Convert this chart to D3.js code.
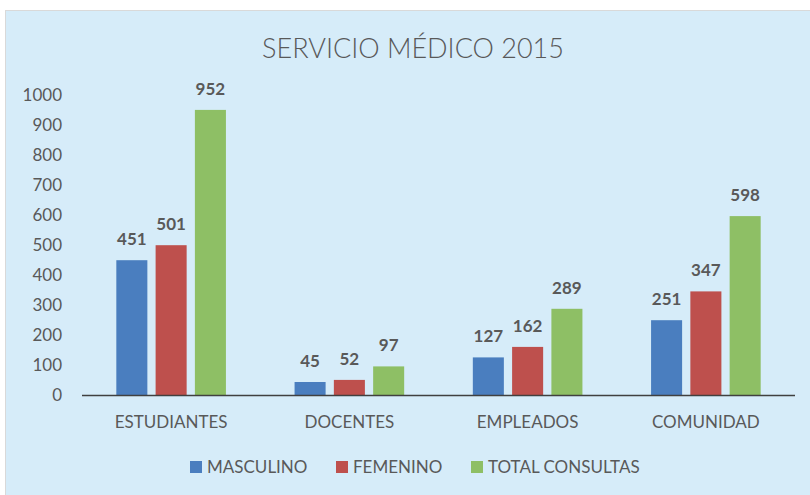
<!DOCTYPE html>
<html lang="es">
<head>
<meta charset="UTF-8">
<title>Servicio Médico 2015</title>
<script src="https://d3js.org/d3.v7.min.js"></script>
<style>
  body { margin: 0; background: #fff; }
  svg { display: block; }
  text { font-family: Lato, "Open Sans", sans-serif; fill: #595959; }
</style>
</head>
<body>
<svg id="chart" width="810" height="495"></svg>
<script>
// data
const categories = ["ESTUDIANTES", "DOCENTES", "EMPLEADOS", "COMUNIDAD"];
const seriesNames = ["MASCULINO", "FEMENINO", "TOTAL CONSULTAS"];
const masculino = [451, 45, 127, 251];
const femenino = [501, 52, 162, 347];
const totalConsultas = [952, 97, 289, 598];
const yTicks = [0, 100, 200, 300, 400, 500, 600, 700, 800, 900, 1000];
const colors = ["#4a7ebf", "#be504d", "#8ebf65"];

const seriesValues = [masculino, femenino, totalConsultas];
const svg = d3.select("#chart");

// background panel
svg.append("rect")
  .attr("x", 5.5).attr("y", 10.5)
  .attr("width", 810).attr("height", 490)
  .attr("fill", "#d6ecf9")
  .attr("stroke", "#d9d9d9");

const x0 = d3.scaleBand().domain(categories).range([82, 795]);
const groupW = 109.6;
const x1 = d3.scaleBand().domain(seriesNames)
  .range([(x0.bandwidth() - groupW) / 2, (x0.bandwidth() + groupW) / 2])
  .paddingInner(0.21);
const y = d3.scaleLinear().domain([0, 1000]).range([395.5, 95.5]);

// title
svg.append("text")
  .attr("x", 413).attr("y", 58)
  .attr("text-anchor", "middle")
  .style("font-size", "27px")
  .style("font-weight", 300)
  .text("SERVICIO MÉDICO 2015");

// y axis labels
svg.append("g").selectAll("text")
  .data(yTicks)
  .join("text")
  .attr("x", 62)
  .attr("y", d => y(d))
  .attr("dy", "0.35em")
  .attr("text-anchor", "end")
  .style("font-size", "17px")
  .text(d => d);

// bars
const groups = svg.append("g").selectAll("g")
  .data(categories)
  .join("g")
  .attr("transform", c => `translate(${x0(c)},0)`);

groups.selectAll("rect")
  .data((c, i) => seriesNames.map((s, k) => ({ s, k, v: seriesValues[k][i] })))
  .join("rect")
  .attr("x", d => x1(d.s))
  .attr("y", d => y(d.v))
  .attr("width", x1.bandwidth())
  .attr("height", d => y(0) - y(d.v))
  .attr("fill", d => colors[d.k]);

groups.selectAll("text.lbl")
  .data((c, i) => seriesNames.map((s, k) => ({ s, k, v: seriesValues[k][i] })))
  .join("text")
  .attr("class", "lbl")
  .attr("x", d => x1(d.s) + x1.bandwidth() / 2)
  .attr("y", d => y(d.v) - 15)
  .attr("text-anchor", "middle")
  .style("font-size", "17px")
  .style("font-weight", "bold")
  .text(d => d.v);

// x axis
svg.append("line")
  .attr("x1", 82).attr("x2", 795)
  .attr("y1", y(0)).attr("y2", y(0))
  .attr("stroke", "#404040")
  .attr("stroke-width", 1.5);

svg.append("g").selectAll("text")
  .data(categories)
  .join("text")
  .attr("x", c => x0(c) + x0.bandwidth() / 2)
  .attr("y", 428)
  .attr("text-anchor", "middle")
  .style("font-size", "17px")
  .text(c => c);

// legend
const legendX = [190, 336, 471];
const legend = svg.append("g").selectAll("g")
  .data(seriesNames)
  .join("g")
  .attr("transform", (s, k) => `translate(${legendX[k]},461)`);
legend.append("rect")
  .attr("width", 12).attr("height", 12)
  .attr("fill", (s, k) => colors[k]);
legend.append("text")
  .attr("x", 17).attr("y", 6)
  .attr("dy", "0.35em")
  .style("font-size", "17px")
  .text(s => s);
</script>
</body>
</html>
